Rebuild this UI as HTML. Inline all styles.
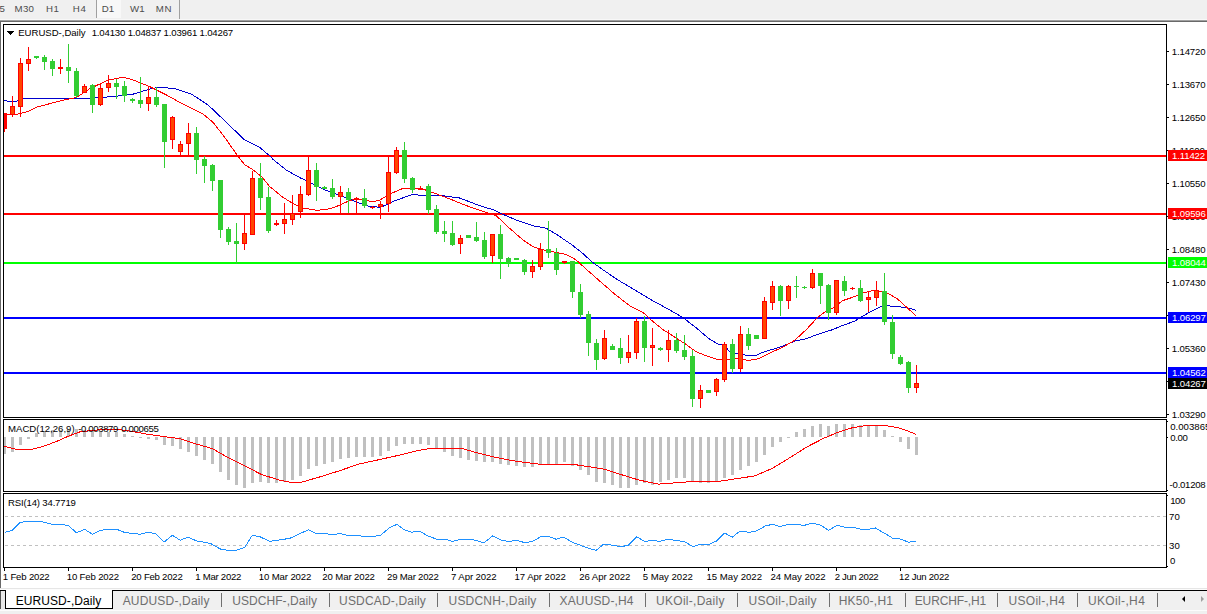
<!DOCTYPE html>
<html><head><meta charset="utf-8"><title>EURUSD-,Daily</title>
<style>
html,body{margin:0;padding:0;}
body{width:1207px;height:614px;overflow:hidden;background:#f0f0f0;position:relative;
 font-family:"Liberation Sans",sans-serif;}
.abs{position:absolute;white-space:nowrap;}
#white{left:1px;top:22px;width:1206px;height:566px;background:#fff;}
svg{position:absolute;left:0;top:0;}
.t{position:absolute;white-space:pre;}
.lab{position:absolute;left:1168px;width:39px;height:11px;overflow:hidden;}
.sep{position:absolute;top:593px;width:1px;height:14px;background:#707070;}
</style></head><body>

<div class="abs" style="left:97px;top:0;width:24px;height:18px;background:#f8f8f8;"></div>
<div class="abs" style="left:96px;top:0;width:1px;height:18px;background:#a0a0a0;"></div>
<div class="abs" style="left:179px;top:0;width:1px;height:20px;background:#a0a0a0;"></div>
<div class="abs" style="left:0;top:19px;width:1207px;height:1px;background:#f8f8f8;"></div>
<div class="abs" style="left:0;top:20px;width:1207px;height:1px;background:#a0a0a0;"></div>
<div class="abs" style="left:0;top:21px;width:1207px;height:1px;background:#696969;"></div>
<div id="white" class="abs"></div>
<div class="abs" style="left:0;top:21px;width:1px;height:567px;background:#696969;"></div>
<svg width="1207" height="614" viewBox="0 0 1207 614" shape-rendering="crispEdges">
<rect x="4" y="155" width="1162" height="2" fill="#ff0000"/>
<rect x="4" y="213" width="1162" height="2" fill="#ff0000"/>
<rect x="4" y="262" width="1162" height="2" fill="#00ff00"/>
<rect x="4" y="317" width="1162" height="2" fill="#0000ff"/>
<rect x="4" y="372" width="1162" height="2" fill="#0000ff"/>
<polyline points="4.0,100.4 9.0,101.4 15.7,101.4 25.7,98.3 89.5,98.3 116.0,96.3 132.6,94.3 149.0,89.3 157.4,87.5 174.0,88.3 179.0,90.0 191.4,94.1 208.0,104.9 224.6,120.7 244.4,139.7 259.4,147.2 269.3,155.5 273.7,160.0 286.2,170.0 299.4,177.4 312.7,184.0 324.3,189.8 335.9,194.0 349.1,199.0 359.0,203.0 369.0,206.4 379.0,207.2 383.0,206.3 393.2,201.3 413.0,194.3 419.7,195.2 439.6,195.2 459.5,198.0 479.4,205.5 493.8,210.0 506.2,215.8 519.5,221.3 532.7,225.7 546.0,228.2 555.9,234.0 570.8,244.0 582.4,253.1 592.4,262.2 604.0,270.5 618.0,280.0 634.6,289.9 652.8,300.7 669.4,309.8 682.6,317.3 697.5,328.9 709.1,338.8 717.4,343.8 724.0,345.5 729.7,351.5 736.3,353.5 746.3,355.3 756.2,355.3 762.9,352.3 779.4,347.3 796.0,340.7 806.3,338.7 819.5,333.7 832.8,329.6 842.7,325.4 854.3,321.3 862.6,316.3 872.6,310.5 882.5,306.0 887.5,305.2 892.4,306.7 905.7,307.2 915.6,310.2" fill="none" stroke="#0000cd" stroke-width="1" stroke-linejoin="round" shape-rendering="crispEdges"/>
<polyline points="4.0,114.4 16.6,114.4 27.3,111.7 37.3,107.0 49.7,103.7 66.3,99.5 76.2,97.5 82.9,93.3 89.5,88.8 107.7,80.2 122.6,77.2 132.5,79.7 149.0,86.3 165.7,94.6 179.8,102.4 203.0,114.0 213.0,122.3 224.6,137.2 236.2,153.8 244.5,164.6 252.7,169.5 262.7,177.8 269.6,186.5 282.9,197.3 292.8,203.4 302.7,208.0 316.0,210.2 326.0,209.7 335.9,206.7 345.8,202.3 355.8,198.4 364.0,200.0 371.5,201.4 378.0,200.8 380.5,199.7 389.9,193.9 403.0,188.4 413.0,188.4 424.7,189.7 436.3,193.9 449.5,198.8 466.0,205.5 486.0,212.4 496.3,215.8 509.5,228.2 522.8,239.8 532.7,246.5 542.7,249.8 552.6,251.8 565.9,254.4 575.8,259.7 585.8,268.8 599.0,280.4 614.7,294.1 629.6,305.7 642.9,312.3 652.8,321.4 662.7,329.4 676.0,338.0 685.9,344.3 695.9,351.6 705.8,355.7 716.5,359.3 729.7,359.3 738.0,358.1 748.0,360.6 757.9,358.9 769.5,353.1 782.7,347.3 794.7,340.3 806.3,329.6 817.9,317.1 824.5,312.2 832.8,308.0 842.7,300.6 852.7,297.3 862.6,293.1 872.6,290.6 880.8,291.1 889.1,293.9 897.4,298.9 905.7,306.4 915.6,315.5" fill="none" stroke="#ff0000" stroke-width="1" stroke-linejoin="round" shape-rendering="crispEdges"/>
<rect x="4" y="113" width="1" height="19" fill="#ff0000"/>
<rect x="4" y="113" width="3" height="16" fill="#ff0000"/>
<rect x="12" y="96" width="1" height="21" fill="#ff0000"/>
<rect x="10" y="106" width="5" height="9" fill="#ff0000"/>
<rect x="11" y="107" width="3" height="7" fill="#ff4500"/>
<rect x="20" y="58" width="1" height="59" fill="#ff0000"/>
<rect x="18" y="63" width="5" height="44" fill="#ff0000"/>
<rect x="19" y="64" width="3" height="42" fill="#ff4500"/>
<rect x="28" y="47" width="1" height="24" fill="#ff0000"/>
<rect x="26" y="59" width="5" height="5" fill="#ff0000"/>
<rect x="27" y="60" width="3" height="3" fill="#ff4500"/>
<rect x="36" y="56" width="1" height="3" fill="#32cd32"/>
<rect x="34" y="56" width="5" height="2" fill="#32cd32"/>
<rect x="44" y="55" width="1" height="15" fill="#32cd32"/>
<rect x="42" y="57" width="5" height="5" fill="#32cd32"/>
<rect x="52" y="59" width="1" height="17" fill="#32cd32"/>
<rect x="50" y="61" width="5" height="8" fill="#32cd32"/>
<rect x="60" y="59" width="1" height="15" fill="#ff0000"/>
<rect x="58" y="67" width="5" height="2" fill="#ff0000"/>
<rect x="68" y="44" width="1" height="39" fill="#32cd32"/>
<rect x="66" y="67" width="5" height="4" fill="#32cd32"/>
<rect x="76" y="68" width="1" height="30" fill="#32cd32"/>
<rect x="74" y="71" width="5" height="25" fill="#32cd32"/>
<rect x="84" y="84" width="1" height="9" fill="#ff0000"/>
<rect x="82" y="86" width="5" height="7" fill="#ff0000"/>
<rect x="83" y="87" width="3" height="5" fill="#ff4500"/>
<rect x="92" y="84" width="1" height="29" fill="#32cd32"/>
<rect x="90" y="85" width="5" height="20" fill="#32cd32"/>
<rect x="100" y="84" width="1" height="22" fill="#ff0000"/>
<rect x="98" y="88" width="5" height="17" fill="#ff0000"/>
<rect x="99" y="89" width="3" height="15" fill="#ff4500"/>
<rect x="108" y="75" width="1" height="17" fill="#ff0000"/>
<rect x="106" y="83" width="5" height="5" fill="#ff0000"/>
<rect x="107" y="84" width="3" height="3" fill="#ff4500"/>
<rect x="116" y="79" width="1" height="20" fill="#32cd32"/>
<rect x="114" y="83" width="5" height="4" fill="#32cd32"/>
<rect x="124" y="81" width="1" height="21" fill="#32cd32"/>
<rect x="122" y="86" width="5" height="10" fill="#32cd32"/>
<rect x="132" y="98" width="1" height="5" fill="#32cd32"/>
<rect x="130" y="99" width="5" height="2" fill="#32cd32"/>
<rect x="140" y="77" width="1" height="31" fill="#32cd32"/>
<rect x="138" y="100" width="5" height="4" fill="#32cd32"/>
<rect x="148" y="86" width="1" height="25" fill="#ff0000"/>
<rect x="146" y="97" width="5" height="7" fill="#ff0000"/>
<rect x="147" y="98" width="3" height="5" fill="#ff4500"/>
<rect x="156" y="87" width="1" height="20" fill="#32cd32"/>
<rect x="154" y="97" width="5" height="8" fill="#32cd32"/>
<rect x="164" y="104" width="1" height="64" fill="#32cd32"/>
<rect x="162" y="104" width="5" height="38" fill="#32cd32"/>
<rect x="172" y="116" width="1" height="33" fill="#ff0000"/>
<rect x="170" y="117" width="5" height="23" fill="#ff0000"/>
<rect x="171" y="118" width="3" height="21" fill="#ff4500"/>
<rect x="180" y="141" width="1" height="15" fill="#ff0000"/>
<rect x="178" y="144" width="5" height="8" fill="#ff0000"/>
<rect x="179" y="145" width="3" height="6" fill="#ff4500"/>
<rect x="188" y="123" width="1" height="33" fill="#ff0000"/>
<rect x="186" y="133" width="5" height="11" fill="#ff0000"/>
<rect x="187" y="134" width="3" height="9" fill="#ff4500"/>
<rect x="196" y="127" width="1" height="47" fill="#32cd32"/>
<rect x="194" y="133" width="5" height="27" fill="#32cd32"/>
<rect x="204" y="156" width="1" height="27" fill="#32cd32"/>
<rect x="202" y="159" width="5" height="7" fill="#32cd32"/>
<rect x="212" y="164" width="1" height="27" fill="#32cd32"/>
<rect x="210" y="165" width="5" height="16" fill="#32cd32"/>
<rect x="220" y="180" width="1" height="58" fill="#32cd32"/>
<rect x="218" y="180" width="5" height="50" fill="#32cd32"/>
<rect x="228" y="227" width="1" height="18" fill="#32cd32"/>
<rect x="226" y="229" width="5" height="13" fill="#32cd32"/>
<rect x="236" y="223" width="1" height="41" fill="#32cd32"/>
<rect x="234" y="241" width="5" height="3" fill="#32cd32"/>
<rect x="244" y="215" width="1" height="35" fill="#ff0000"/>
<rect x="242" y="233" width="5" height="11" fill="#ff0000"/>
<rect x="243" y="234" width="3" height="9" fill="#ff4500"/>
<rect x="252" y="171" width="1" height="64" fill="#ff0000"/>
<rect x="250" y="178" width="5" height="57" fill="#ff0000"/>
<rect x="251" y="179" width="3" height="55" fill="#ff4500"/>
<rect x="260" y="163" width="1" height="47" fill="#32cd32"/>
<rect x="258" y="178" width="5" height="20" fill="#32cd32"/>
<rect x="268" y="187" width="1" height="46" fill="#32cd32"/>
<rect x="266" y="197" width="5" height="34" fill="#32cd32"/>
<rect x="276" y="220" width="1" height="6" fill="#ff0000"/>
<rect x="274" y="223" width="5" height="2" fill="#ff0000"/>
<rect x="284" y="203" width="1" height="31" fill="#ff0000"/>
<rect x="282" y="219" width="5" height="5" fill="#ff0000"/>
<rect x="283" y="220" width="3" height="3" fill="#ff4500"/>
<rect x="292" y="195" width="1" height="30" fill="#ff0000"/>
<rect x="290" y="213" width="5" height="7" fill="#ff0000"/>
<rect x="291" y="214" width="3" height="5" fill="#ff4500"/>
<rect x="300" y="186" width="1" height="32" fill="#ff0000"/>
<rect x="298" y="194" width="5" height="18" fill="#ff0000"/>
<rect x="299" y="195" width="3" height="16" fill="#ff4500"/>
<rect x="308" y="156" width="1" height="40" fill="#ff0000"/>
<rect x="306" y="170" width="5" height="25" fill="#ff0000"/>
<rect x="307" y="171" width="3" height="23" fill="#ff4500"/>
<rect x="316" y="163" width="1" height="38" fill="#32cd32"/>
<rect x="314" y="170" width="5" height="17" fill="#32cd32"/>
<rect x="324" y="186" width="1" height="3" fill="#32cd32"/>
<rect x="322" y="187" width="5" height="2" fill="#32cd32"/>
<rect x="332" y="179" width="1" height="20" fill="#32cd32"/>
<rect x="330" y="188" width="5" height="9" fill="#32cd32"/>
<rect x="340" y="186" width="1" height="27" fill="#ff0000"/>
<rect x="338" y="192" width="5" height="5" fill="#ff0000"/>
<rect x="339" y="193" width="3" height="3" fill="#ff4500"/>
<rect x="348" y="188" width="1" height="25" fill="#32cd32"/>
<rect x="346" y="192" width="5" height="8" fill="#32cd32"/>
<rect x="356" y="197" width="1" height="16" fill="#ff0000"/>
<rect x="354" y="198" width="5" height="2" fill="#ff0000"/>
<rect x="364" y="189" width="1" height="19" fill="#32cd32"/>
<rect x="362" y="198" width="5" height="8" fill="#32cd32"/>
<rect x="372" y="206" width="1" height="3" fill="#ff0000"/>
<rect x="370" y="207" width="5" height="1" fill="#ff0000"/>
<rect x="380" y="201" width="1" height="18" fill="#ff0000"/>
<rect x="378" y="204" width="5" height="3" fill="#ff0000"/>
<rect x="379" y="205" width="3" height="1" fill="#ff4500"/>
<rect x="388" y="156" width="1" height="56" fill="#ff0000"/>
<rect x="386" y="172" width="5" height="32" fill="#ff0000"/>
<rect x="387" y="173" width="3" height="30" fill="#ff4500"/>
<rect x="396" y="147" width="1" height="27" fill="#ff0000"/>
<rect x="394" y="150" width="5" height="23" fill="#ff0000"/>
<rect x="395" y="151" width="3" height="21" fill="#ff4500"/>
<rect x="404" y="142" width="1" height="41" fill="#32cd32"/>
<rect x="402" y="150" width="5" height="29" fill="#32cd32"/>
<rect x="412" y="177" width="1" height="16" fill="#32cd32"/>
<rect x="410" y="178" width="5" height="12" fill="#32cd32"/>
<rect x="420" y="186" width="1" height="3" fill="#ff0000"/>
<rect x="418" y="188" width="5" height="1" fill="#ff0000"/>
<rect x="428" y="184" width="1" height="30" fill="#32cd32"/>
<rect x="426" y="186" width="5" height="24" fill="#32cd32"/>
<rect x="436" y="205" width="1" height="29" fill="#32cd32"/>
<rect x="434" y="209" width="5" height="23" fill="#32cd32"/>
<rect x="444" y="221" width="1" height="21" fill="#32cd32"/>
<rect x="442" y="231" width="5" height="3" fill="#32cd32"/>
<rect x="452" y="221" width="1" height="25" fill="#32cd32"/>
<rect x="450" y="233" width="5" height="12" fill="#32cd32"/>
<rect x="460" y="235" width="1" height="19" fill="#ff0000"/>
<rect x="458" y="238" width="5" height="6" fill="#ff0000"/>
<rect x="459" y="239" width="3" height="4" fill="#ff4500"/>
<rect x="468" y="235" width="1" height="3" fill="#32cd32"/>
<rect x="466" y="235" width="5" height="3" fill="#32cd32"/>
<rect x="476" y="222" width="1" height="20" fill="#32cd32"/>
<rect x="474" y="237" width="5" height="4" fill="#32cd32"/>
<rect x="484" y="232" width="1" height="27" fill="#32cd32"/>
<rect x="482" y="240" width="5" height="17" fill="#32cd32"/>
<rect x="492" y="234" width="1" height="29" fill="#ff0000"/>
<rect x="490" y="234" width="5" height="22" fill="#ff0000"/>
<rect x="491" y="235" width="3" height="20" fill="#ff4500"/>
<rect x="500" y="225" width="1" height="54" fill="#32cd32"/>
<rect x="498" y="234" width="5" height="25" fill="#32cd32"/>
<rect x="508" y="257" width="1" height="10" fill="#32cd32"/>
<rect x="506" y="258" width="5" height="5" fill="#32cd32"/>
<rect x="516" y="258" width="1" height="2" fill="#32cd32"/>
<rect x="514" y="258" width="5" height="2" fill="#32cd32"/>
<rect x="524" y="259" width="1" height="16" fill="#32cd32"/>
<rect x="522" y="260" width="5" height="12" fill="#32cd32"/>
<rect x="532" y="260" width="1" height="18" fill="#ff0000"/>
<rect x="530" y="266" width="5" height="6" fill="#ff0000"/>
<rect x="531" y="267" width="3" height="4" fill="#ff4500"/>
<rect x="540" y="243" width="1" height="27" fill="#ff0000"/>
<rect x="538" y="249" width="5" height="18" fill="#ff0000"/>
<rect x="539" y="250" width="3" height="16" fill="#ff4500"/>
<rect x="548" y="221" width="1" height="37" fill="#32cd32"/>
<rect x="546" y="249" width="5" height="4" fill="#32cd32"/>
<rect x="556" y="248" width="1" height="27" fill="#32cd32"/>
<rect x="554" y="253" width="5" height="17" fill="#32cd32"/>
<rect x="564" y="261" width="1" height="3" fill="#ff0000"/>
<rect x="562" y="261" width="5" height="2" fill="#ff0000"/>
<rect x="572" y="261" width="1" height="37" fill="#32cd32"/>
<rect x="570" y="261" width="5" height="31" fill="#32cd32"/>
<rect x="580" y="284" width="1" height="34" fill="#32cd32"/>
<rect x="578" y="292" width="5" height="23" fill="#32cd32"/>
<rect x="588" y="311" width="1" height="45" fill="#32cd32"/>
<rect x="586" y="314" width="5" height="29" fill="#32cd32"/>
<rect x="596" y="339" width="1" height="31" fill="#32cd32"/>
<rect x="594" y="343" width="5" height="17" fill="#32cd32"/>
<rect x="604" y="330" width="1" height="30" fill="#ff0000"/>
<rect x="602" y="338" width="5" height="21" fill="#ff0000"/>
<rect x="603" y="339" width="3" height="19" fill="#ff4500"/>
<rect x="612" y="344" width="1" height="6" fill="#32cd32"/>
<rect x="610" y="346" width="5" height="4" fill="#32cd32"/>
<rect x="620" y="338" width="1" height="26" fill="#32cd32"/>
<rect x="618" y="348" width="5" height="10" fill="#32cd32"/>
<rect x="628" y="335" width="1" height="28" fill="#ff0000"/>
<rect x="626" y="352" width="5" height="6" fill="#ff0000"/>
<rect x="627" y="353" width="3" height="4" fill="#ff4500"/>
<rect x="636" y="318" width="1" height="41" fill="#ff0000"/>
<rect x="634" y="321" width="5" height="32" fill="#ff0000"/>
<rect x="635" y="322" width="3" height="30" fill="#ff4500"/>
<rect x="644" y="316" width="1" height="46" fill="#32cd32"/>
<rect x="642" y="321" width="5" height="27" fill="#32cd32"/>
<rect x="652" y="328" width="1" height="38" fill="#ff0000"/>
<rect x="650" y="345" width="5" height="3" fill="#ff0000"/>
<rect x="651" y="346" width="3" height="1" fill="#ff4500"/>
<rect x="660" y="347" width="1" height="4" fill="#32cd32"/>
<rect x="658" y="348" width="5" height="2" fill="#32cd32"/>
<rect x="668" y="330" width="1" height="32" fill="#ff0000"/>
<rect x="666" y="340" width="5" height="10" fill="#ff0000"/>
<rect x="667" y="341" width="3" height="8" fill="#ff4500"/>
<rect x="676" y="333" width="1" height="20" fill="#32cd32"/>
<rect x="674" y="340" width="5" height="11" fill="#32cd32"/>
<rect x="684" y="335" width="1" height="25" fill="#32cd32"/>
<rect x="682" y="350" width="5" height="7" fill="#32cd32"/>
<rect x="692" y="350" width="1" height="57" fill="#32cd32"/>
<rect x="690" y="356" width="5" height="43" fill="#32cd32"/>
<rect x="700" y="385" width="1" height="23" fill="#ff0000"/>
<rect x="698" y="390" width="5" height="9" fill="#ff0000"/>
<rect x="699" y="391" width="3" height="7" fill="#ff4500"/>
<rect x="708" y="390" width="1" height="3" fill="#32cd32"/>
<rect x="706" y="390" width="5" height="3" fill="#32cd32"/>
<rect x="716" y="378" width="1" height="18" fill="#ff0000"/>
<rect x="714" y="379" width="5" height="13" fill="#ff0000"/>
<rect x="715" y="380" width="3" height="11" fill="#ff4500"/>
<rect x="724" y="342" width="1" height="40" fill="#ff0000"/>
<rect x="722" y="344" width="5" height="36" fill="#ff0000"/>
<rect x="723" y="345" width="3" height="34" fill="#ff4500"/>
<rect x="732" y="339" width="1" height="34" fill="#32cd32"/>
<rect x="730" y="344" width="5" height="25" fill="#32cd32"/>
<rect x="740" y="326" width="1" height="46" fill="#ff0000"/>
<rect x="738" y="334" width="5" height="35" fill="#ff0000"/>
<rect x="739" y="335" width="3" height="33" fill="#ff4500"/>
<rect x="748" y="328" width="1" height="22" fill="#32cd32"/>
<rect x="746" y="334" width="5" height="12" fill="#32cd32"/>
<rect x="756" y="335" width="1" height="4" fill="#32cd32"/>
<rect x="754" y="335" width="5" height="4" fill="#32cd32"/>
<rect x="764" y="297" width="1" height="42" fill="#ff0000"/>
<rect x="762" y="301" width="5" height="38" fill="#ff0000"/>
<rect x="763" y="302" width="3" height="36" fill="#ff4500"/>
<rect x="772" y="281" width="1" height="29" fill="#ff0000"/>
<rect x="770" y="286" width="5" height="17" fill="#ff0000"/>
<rect x="771" y="287" width="3" height="15" fill="#ff4500"/>
<rect x="780" y="285" width="1" height="31" fill="#32cd32"/>
<rect x="778" y="286" width="5" height="15" fill="#32cd32"/>
<rect x="788" y="285" width="1" height="24" fill="#ff0000"/>
<rect x="786" y="286" width="5" height="15" fill="#ff0000"/>
<rect x="787" y="287" width="3" height="13" fill="#ff4500"/>
<rect x="796" y="276" width="1" height="22" fill="#32cd32"/>
<rect x="794" y="286" width="5" height="1" fill="#32cd32"/>
<rect x="804" y="286" width="1" height="3" fill="#32cd32"/>
<rect x="802" y="287" width="5" height="1" fill="#32cd32"/>
<rect x="812" y="269" width="1" height="20" fill="#ff0000"/>
<rect x="810" y="273" width="5" height="15" fill="#ff0000"/>
<rect x="811" y="274" width="3" height="13" fill="#ff4500"/>
<rect x="820" y="273" width="1" height="31" fill="#32cd32"/>
<rect x="818" y="273" width="5" height="13" fill="#32cd32"/>
<rect x="828" y="284" width="1" height="36" fill="#32cd32"/>
<rect x="826" y="285" width="5" height="28" fill="#32cd32"/>
<rect x="836" y="280" width="1" height="35" fill="#ff0000"/>
<rect x="834" y="280" width="5" height="33" fill="#ff0000"/>
<rect x="835" y="281" width="3" height="31" fill="#ff4500"/>
<rect x="844" y="276" width="1" height="20" fill="#32cd32"/>
<rect x="842" y="281" width="5" height="10" fill="#32cd32"/>
<rect x="852" y="287" width="1" height="3" fill="#ff0000"/>
<rect x="850" y="288" width="5" height="1" fill="#ff0000"/>
<rect x="860" y="280" width="1" height="22" fill="#32cd32"/>
<rect x="858" y="288" width="5" height="13" fill="#32cd32"/>
<rect x="868" y="292" width="1" height="20" fill="#ff0000"/>
<rect x="866" y="297" width="5" height="3" fill="#ff0000"/>
<rect x="867" y="298" width="3" height="1" fill="#ff4500"/>
<rect x="876" y="281" width="1" height="25" fill="#ff0000"/>
<rect x="874" y="290" width="5" height="8" fill="#ff0000"/>
<rect x="875" y="291" width="3" height="6" fill="#ff4500"/>
<rect x="884" y="273" width="1" height="52" fill="#32cd32"/>
<rect x="882" y="291" width="5" height="31" fill="#32cd32"/>
<rect x="892" y="315" width="1" height="44" fill="#32cd32"/>
<rect x="890" y="322" width="5" height="32" fill="#32cd32"/>
<rect x="900" y="355" width="1" height="10" fill="#32cd32"/>
<rect x="898" y="357" width="5" height="7" fill="#32cd32"/>
<rect x="908" y="361" width="1" height="32" fill="#32cd32"/>
<rect x="906" y="362" width="5" height="26" fill="#32cd32"/>
<rect x="916" y="365" width="1" height="28" fill="#ff0000"/>
<rect x="914" y="383" width="5" height="5" fill="#ff0000"/>
<rect x="915" y="384" width="3" height="3" fill="#ff4500"/>
<rect x="4" y="437" width="2" height="17" fill="#c0c0c0"/>
<rect x="11" y="437" width="3" height="15" fill="#c0c0c0"/>
<rect x="19" y="437" width="3" height="8" fill="#c0c0c0"/>
<rect x="27" y="437" width="3" height="2" fill="#c0c0c0"/>
<rect x="35" y="433" width="3" height="4" fill="#c0c0c0"/>
<rect x="43" y="431" width="3" height="6" fill="#c0c0c0"/>
<rect x="51" y="430" width="3" height="7" fill="#c0c0c0"/>
<rect x="59" y="430" width="3" height="7" fill="#c0c0c0"/>
<rect x="67" y="429" width="3" height="8" fill="#c0c0c0"/>
<rect x="75" y="429" width="3" height="8" fill="#c0c0c0"/>
<rect x="83" y="430" width="3" height="7" fill="#c0c0c0"/>
<rect x="91" y="431" width="3" height="6" fill="#c0c0c0"/>
<rect x="99" y="432" width="3" height="5" fill="#c0c0c0"/>
<rect x="107" y="432" width="3" height="5" fill="#c0c0c0"/>
<rect x="115" y="432" width="3" height="5" fill="#c0c0c0"/>
<rect x="123" y="434" width="3" height="3" fill="#c0c0c0"/>
<rect x="131" y="436" width="3" height="1" fill="#c0c0c0"/>
<rect x="139" y="437" width="3" height="1" fill="#c0c0c0"/>
<rect x="147" y="437" width="3" height="2" fill="#c0c0c0"/>
<rect x="155" y="437" width="3" height="3" fill="#c0c0c0"/>
<rect x="163" y="437" width="3" height="8" fill="#c0c0c0"/>
<rect x="171" y="437" width="3" height="9" fill="#c0c0c0"/>
<rect x="179" y="437" width="3" height="12" fill="#c0c0c0"/>
<rect x="187" y="437" width="3" height="15" fill="#c0c0c0"/>
<rect x="195" y="437" width="3" height="19" fill="#c0c0c0"/>
<rect x="203" y="437" width="3" height="23" fill="#c0c0c0"/>
<rect x="211" y="437" width="3" height="27" fill="#c0c0c0"/>
<rect x="219" y="437" width="3" height="35" fill="#c0c0c0"/>
<rect x="227" y="437" width="3" height="43" fill="#c0c0c0"/>
<rect x="235" y="437" width="3" height="48" fill="#c0c0c0"/>
<rect x="243" y="437" width="3" height="51" fill="#c0c0c0"/>
<rect x="251" y="437" width="3" height="46" fill="#c0c0c0"/>
<rect x="259" y="437" width="3" height="45" fill="#c0c0c0"/>
<rect x="267" y="437" width="3" height="46" fill="#c0c0c0"/>
<rect x="275" y="437" width="3" height="46" fill="#c0c0c0"/>
<rect x="283" y="437" width="3" height="45" fill="#c0c0c0"/>
<rect x="291" y="437" width="3" height="43" fill="#c0c0c0"/>
<rect x="299" y="437" width="3" height="39" fill="#c0c0c0"/>
<rect x="307" y="437" width="3" height="32" fill="#c0c0c0"/>
<rect x="315" y="437" width="3" height="29" fill="#c0c0c0"/>
<rect x="323" y="437" width="3" height="27" fill="#c0c0c0"/>
<rect x="331" y="437" width="3" height="25" fill="#c0c0c0"/>
<rect x="339" y="437" width="3" height="22" fill="#c0c0c0"/>
<rect x="347" y="437" width="3" height="21" fill="#c0c0c0"/>
<rect x="355" y="437" width="3" height="20" fill="#c0c0c0"/>
<rect x="363" y="437" width="3" height="20" fill="#c0c0c0"/>
<rect x="371" y="437" width="3" height="20" fill="#c0c0c0"/>
<rect x="379" y="437" width="3" height="19" fill="#c0c0c0"/>
<rect x="387" y="437" width="3" height="14" fill="#c0c0c0"/>
<rect x="395" y="437" width="3" height="9" fill="#c0c0c0"/>
<rect x="403" y="437" width="3" height="7" fill="#c0c0c0"/>
<rect x="411" y="437" width="3" height="7" fill="#c0c0c0"/>
<rect x="419" y="437" width="3" height="7" fill="#c0c0c0"/>
<rect x="427" y="437" width="3" height="8" fill="#c0c0c0"/>
<rect x="435" y="437" width="3" height="11" fill="#c0c0c0"/>
<rect x="443" y="437" width="3" height="15" fill="#c0c0c0"/>
<rect x="451" y="437" width="3" height="19" fill="#c0c0c0"/>
<rect x="459" y="437" width="3" height="21" fill="#c0c0c0"/>
<rect x="467" y="437" width="3" height="23" fill="#c0c0c0"/>
<rect x="475" y="437" width="3" height="24" fill="#c0c0c0"/>
<rect x="483" y="437" width="3" height="25" fill="#c0c0c0"/>
<rect x="491" y="437" width="3" height="25" fill="#c0c0c0"/>
<rect x="499" y="437" width="3" height="27" fill="#c0c0c0"/>
<rect x="507" y="437" width="3" height="28" fill="#c0c0c0"/>
<rect x="515" y="437" width="3" height="29" fill="#c0c0c0"/>
<rect x="523" y="437" width="3" height="30" fill="#c0c0c0"/>
<rect x="531" y="437" width="3" height="30" fill="#c0c0c0"/>
<rect x="539" y="437" width="3" height="27" fill="#c0c0c0"/>
<rect x="547" y="437" width="3" height="27" fill="#c0c0c0"/>
<rect x="555" y="437" width="3" height="27" fill="#c0c0c0"/>
<rect x="563" y="437" width="3" height="25" fill="#c0c0c0"/>
<rect x="571" y="437" width="3" height="29" fill="#c0c0c0"/>
<rect x="579" y="437" width="3" height="33" fill="#c0c0c0"/>
<rect x="587" y="437" width="3" height="38" fill="#c0c0c0"/>
<rect x="595" y="437" width="3" height="45" fill="#c0c0c0"/>
<rect x="603" y="437" width="3" height="46" fill="#c0c0c0"/>
<rect x="611" y="437" width="3" height="48" fill="#c0c0c0"/>
<rect x="619" y="437" width="3" height="51" fill="#c0c0c0"/>
<rect x="627" y="437" width="3" height="51" fill="#c0c0c0"/>
<rect x="635" y="437" width="3" height="48" fill="#c0c0c0"/>
<rect x="643" y="437" width="3" height="46" fill="#c0c0c0"/>
<rect x="651" y="437" width="3" height="48" fill="#c0c0c0"/>
<rect x="659" y="437" width="3" height="45" fill="#c0c0c0"/>
<rect x="667" y="437" width="3" height="43" fill="#c0c0c0"/>
<rect x="675" y="437" width="3" height="41" fill="#c0c0c0"/>
<rect x="683" y="437" width="3" height="41" fill="#c0c0c0"/>
<rect x="691" y="437" width="3" height="45" fill="#c0c0c0"/>
<rect x="699" y="437" width="3" height="46" fill="#c0c0c0"/>
<rect x="707" y="437" width="3" height="46" fill="#c0c0c0"/>
<rect x="715" y="437" width="3" height="45" fill="#c0c0c0"/>
<rect x="723" y="437" width="3" height="41" fill="#c0c0c0"/>
<rect x="731" y="437" width="3" height="38" fill="#c0c0c0"/>
<rect x="739" y="437" width="3" height="33" fill="#c0c0c0"/>
<rect x="747" y="437" width="3" height="29" fill="#c0c0c0"/>
<rect x="755" y="437" width="3" height="25" fill="#c0c0c0"/>
<rect x="763" y="437" width="3" height="18" fill="#c0c0c0"/>
<rect x="771" y="437" width="3" height="10" fill="#c0c0c0"/>
<rect x="779" y="437" width="3" height="5" fill="#c0c0c0"/>
<rect x="787" y="437" width="3" height="1" fill="#c0c0c0"/>
<rect x="795" y="432" width="3" height="5" fill="#c0c0c0"/>
<rect x="803" y="429" width="3" height="8" fill="#c0c0c0"/>
<rect x="811" y="426" width="3" height="11" fill="#c0c0c0"/>
<rect x="819" y="424" width="3" height="13" fill="#c0c0c0"/>
<rect x="827" y="426" width="3" height="11" fill="#c0c0c0"/>
<rect x="835" y="424" width="3" height="13" fill="#c0c0c0"/>
<rect x="843" y="424" width="3" height="13" fill="#c0c0c0"/>
<rect x="851" y="424" width="3" height="13" fill="#c0c0c0"/>
<rect x="859" y="425" width="3" height="12" fill="#c0c0c0"/>
<rect x="867" y="425" width="3" height="12" fill="#c0c0c0"/>
<rect x="875" y="425" width="3" height="12" fill="#c0c0c0"/>
<rect x="883" y="430" width="3" height="7" fill="#c0c0c0"/>
<rect x="891" y="436" width="3" height="1" fill="#c0c0c0"/>
<rect x="899" y="437" width="3" height="5" fill="#c0c0c0"/>
<rect x="907" y="437" width="3" height="12" fill="#c0c0c0"/>
<rect x="915" y="437" width="3" height="18" fill="#c0c0c0"/>
<polyline points="3.3,446.1 16.6,449.3 29.8,449.8 43.0,446.5 56.3,441.5 69.6,435.7 79.5,432.0 92.8,430.2 106.0,429.6 119.3,429.6 132.6,431.5 149.1,434.5 165.7,436.8 180.0,438.6 194.9,443.6 212.3,448.6 229.7,458.5 244.6,466.0 262.0,474.7 279.4,480.1 289.4,482.1 301.8,482.1 319.2,477.1 339.1,470.9 359.0,464.0 378.9,459.7 398.7,455.3 418.6,450.3 433.5,448.1 460.9,448.1 474.9,452.3 494.8,457.3 514.7,461.0 539.5,464.2 571.9,464.2 589.3,466.7 604.2,469.2 621.6,474.7 639.0,480.1 658.9,484.1 678.7,482.6 693.7,481.4 718.5,481.4 738.4,478.4 754.9,475.9 772.3,468.4 789.7,457.8 807.1,446.8 824.5,437.9 839.4,431.7 851.9,427.9 864.3,425.7 884.2,425.4 896.6,427.4 906.6,430.4 916.0,434.4" fill="none" stroke="#ff0000" stroke-width="1" stroke-linejoin="round" shape-rendering="crispEdges"/>
<line x1="5" y1="516.5" x2="1166" y2="516.5" stroke="#c0c0c0" stroke-width="1" stroke-dasharray="3 3"/>
<line x1="5" y1="545.5" x2="1166" y2="545.5" stroke="#c0c0c0" stroke-width="1" stroke-dasharray="3 3"/>
<polyline points="4.5,532.3 12.4,530.3 20.4,522.3 28.6,521.3 39.8,521.3 52.2,524.3 60.9,524.3 68.4,525.5 76.6,532.8 84.5,529.3 92.5,534.2 100.7,530.3 108.6,529.3 116.8,529.3 124.3,532.3 133.0,533.5 140.4,534.2 148.4,532.3 156.1,534.0 164.1,542.2 172.3,535.2 180.2,540.2 188.2,537.2 196.4,540.9 204.3,542.2 211.3,543.9 220.0,548.9 227.9,550.4 236.1,550.4 244.8,547.2 252.3,535.2 259.8,536.7 269.7,541.4 275.9,540.4 284.6,539.2 292.0,537.7 300.0,533.5 308.6,529.8 316.1,533.5 324.8,533.5 332.3,534.7 339.7,533.5 348.4,535.5 357.1,535.5 364.6,536.5 373.3,536.5 380.7,535.2 389.4,527.8 396.9,524.3 404.3,529.8 411.8,532.3 419.3,531.0 428.0,536.0 436.7,539.2 445.4,539.2 452.8,541.5 460.3,539.2 471.5,539.2 483.9,542.7 492.6,536.0 501.3,540.2 508.7,541.5 516.2,540.2 524.9,542.7 532.4,541.5 541.1,536.5 548.5,536.5 556.0,539.2 563.4,537.2 573.4,542.7 582.1,545.9 588.7,548.4 596.2,550.4 603.6,544.2 612.3,545.2 621.0,546.7 628.5,545.2 636.7,536.7 645.1,541.7 652.1,540.2 659.5,541.5 668.2,539.2 675.7,540.5 684.4,541.5 693.1,546.7 700.6,544.2 709.3,544.2 716.7,541.0 724.7,533.0 732.1,537.2 740.3,531.0 749.0,532.3 756.5,531.0 765.2,526.0 772.6,524.3 780.1,526.5 788.8,524.3 796.3,524.3 803.7,525.5 812.4,523.1 819.9,524.8 828.6,530.3 837.3,525.3 844.7,527.3 853.4,527.3 860.9,529.3 868.3,529.3 875.4,528.0 884.9,533.5 892.3,538.0 901.0,539.2 908.5,542.2 916.0,541.0" fill="none" stroke="#1e90ff" stroke-width="1" stroke-linejoin="round" shape-rendering="crispEdges"/>
<rect x="3" y="24" width="1164" height="1" fill="#000"/>
<rect x="3" y="417" width="1164" height="1" fill="#000"/>
<rect x="3" y="24" width="1" height="394" fill="#000"/>
<rect x="1166" y="24" width="1" height="394" fill="#000"/>
<rect x="3" y="419" width="1164" height="1" fill="#000"/>
<rect x="3" y="491" width="1164" height="1" fill="#000"/>
<rect x="3" y="419" width="1" height="73" fill="#000"/>
<rect x="1166" y="419" width="1" height="73" fill="#000"/>
<rect x="3" y="493" width="1164" height="1" fill="#000"/>
<rect x="3" y="567" width="1164" height="1" fill="#000"/>
<rect x="3" y="493" width="1" height="75" fill="#000"/>
<rect x="1166" y="493" width="1" height="75" fill="#000"/>
<rect x="1167" y="51" width="2" height="1" fill="#000"/>
<rect x="1167" y="84" width="2" height="1" fill="#000"/>
<rect x="1167" y="117" width="2" height="1" fill="#000"/>
<rect x="1167" y="150" width="2" height="1" fill="#000"/>
<rect x="1167" y="183" width="2" height="1" fill="#000"/>
<rect x="1167" y="216" width="2" height="1" fill="#000"/>
<rect x="1167" y="249" width="2" height="1" fill="#000"/>
<rect x="1167" y="282" width="2" height="1" fill="#000"/>
<rect x="1167" y="315" width="2" height="1" fill="#000"/>
<rect x="1167" y="348" width="2" height="1" fill="#000"/>
<rect x="1167" y="381" width="2" height="1" fill="#000"/>
<rect x="1167" y="414" width="2" height="1" fill="#000"/>
<rect x="1167" y="421" width="1" height="1" fill="#000"/>
<rect x="1167" y="437" width="1" height="1" fill="#000"/>
<rect x="1167" y="490" width="1" height="1" fill="#000"/>
<rect x="1167" y="495" width="1" height="1" fill="#000"/>
<rect x="1167" y="566" width="1" height="1" fill="#000"/>
<rect x="4" y="568" width="1" height="3" fill="#000"/>
<rect x="68" y="568" width="1" height="3" fill="#000"/>
<rect x="132" y="568" width="1" height="3" fill="#000"/>
<rect x="196" y="568" width="1" height="3" fill="#000"/>
<rect x="260" y="568" width="1" height="3" fill="#000"/>
<rect x="324" y="568" width="1" height="3" fill="#000"/>
<rect x="388" y="568" width="1" height="3" fill="#000"/>
<rect x="452" y="568" width="1" height="3" fill="#000"/>
<rect x="516" y="568" width="1" height="3" fill="#000"/>
<rect x="580" y="568" width="1" height="3" fill="#000"/>
<rect x="644" y="568" width="1" height="3" fill="#000"/>
<rect x="708" y="568" width="1" height="3" fill="#000"/>
<rect x="772" y="568" width="1" height="3" fill="#000"/>
<rect x="836" y="568" width="1" height="3" fill="#000"/>
<rect x="900" y="568" width="1" height="3" fill="#000"/>
<rect x="7" y="31" width="7" height="1" fill="#000"/>
<rect x="8" y="32" width="5" height="1" fill="#000"/>
<rect x="9" y="33" width="3" height="1" fill="#000"/>
<rect x="10" y="34" width="1" height="1" fill="#000"/>
</svg>
<div class="abs" style="left:0;top:588px;width:1207px;height:1px;background:#e6e6e6;"></div>
<div class="abs" style="left:0;top:589px;width:1207px;height:1px;background:#fcfcfc;"></div>
<div class="abs" style="left:0;top:610px;width:1207px;height:1px;background:#fcfcfc;"></div>
<div class="abs" style="left:0;top:590px;width:6px;height:1px;background:#000;"></div>
<div class="abs" style="left:112px;top:590px;width:1095px;height:1px;background:#000;"></div>
<div class="abs" style="left:0;top:591px;width:1px;height:18px;background:#555;"></div>
<div class="abs" style="left:1px;top:591px;width:4px;height:18px;background:#e8e8e8;"></div>
<div class="abs" style="left:5px;top:590px;width:106px;height:18px;background:#fff;border:1px solid #000;border-top:none;"></div>
<div class="sep" style="left:221px;"></div>
<div class="sep" style="left:329px;"></div>
<div class="sep" style="left:437px;"></div>
<div class="sep" style="left:549px;"></div>
<div class="sep" style="left:645px;"></div>
<div class="sep" style="left:737px;"></div>
<div class="sep" style="left:829px;"></div>
<div class="sep" style="left:905px;"></div>
<div class="sep" style="left:997px;"></div>
<div class="sep" style="left:1077px;"></div>
<div class="sep" style="left:1157px;"></div>
<div class="abs" style="left:1181.8px;top:595.5px;width:0;height:0;border-top:3.5px solid transparent;border-bottom:3.5px solid transparent;border-right:3.5px solid #000;"></div>
<div class="abs" style="left:1200.5px;top:595.5px;width:0;height:0;border-top:3.5px solid transparent;border-bottom:3.5px solid transparent;border-left:3.5px solid #a0a0a0;"></div>
<div class="t" id="t0" style="left:-0.40px;top:2.64px;font-size:9.7px;line-height:12px;letter-spacing:0.000px;color:#4c4c4c;">5</div>
<div class="t" id="t1" style="left:14.58px;top:2.64px;font-size:9.7px;line-height:12px;letter-spacing:0.282px;color:#4c4c4c;">M30</div>
<div class="t" id="t2" style="left:45.92px;top:2.64px;font-size:9.7px;line-height:12px;letter-spacing:0.563px;color:#4c4c4c;">H1</div>
<div class="t" id="t3" style="left:72.80px;top:2.64px;font-size:9.7px;line-height:12px;letter-spacing:0.700px;color:#4c4c4c;">H4</div>
<div class="t" id="t4" style="left:101.78px;top:2.64px;font-size:9.7px;line-height:12px;letter-spacing:0.083px;color:#4c4c4c;">D1</div>
<div class="t" id="t5" style="left:130.01px;top:2.64px;font-size:9.7px;line-height:12px;letter-spacing:0.209px;color:#4c4c4c;">W1</div>
<div class="t" id="t6" style="left:155.67px;top:2.64px;font-size:9.7px;line-height:12px;letter-spacing:0.700px;color:#4c4c4c;">MN</div>
<div class="t" id="t7" style="left:18.22px;top:26.67px;font-size:9.6px;line-height:12px;letter-spacing:-0.024px;color:#000;">EURUSD-,Daily</div>
<div class="t" id="t8" style="left:91.70px;top:26.67px;font-size:9.6px;line-height:12px;letter-spacing:-0.174px;color:#000;">1.04130 1.04837 1.03961 1.04267</div>
<div class="t" id="t9" style="left:8.01px;top:422.67px;font-size:9.6px;line-height:12px;letter-spacing:-0.004px;color:#000;">MACD(12,26,9)</div>
<div class="t" id="t10" style="left:78.29px;top:422.67px;font-size:9.6px;line-height:12px;letter-spacing:-0.389px;color:#000;">-0.003879</div>
<div class="t" id="t11" style="left:121.13px;top:422.67px;font-size:9.6px;line-height:12px;letter-spacing:-0.324px;color:#000;">0.000655</div>
<div class="t" id="t12" style="left:8.00px;top:496.67px;font-size:9.6px;line-height:12px;letter-spacing:-0.176px;color:#000;">RSI(14) 34.7719</div>
<div class="t" id="t13" style="left:1171.78px;top:45.67px;font-size:9.6px;line-height:12px;letter-spacing:-0.151px;color:#000;">1.14720</div>
<div class="t nf" id="t14" style="left:1171.78px;top:78.67px;font-size:9.6px;line-height:12px;letter-spacing:-0.151px;color:#000;">1.13670</div>
<div class="t nf" id="t15" style="left:1171.78px;top:111.67px;font-size:9.6px;line-height:12px;letter-spacing:-0.151px;color:#000;">1.12650</div>
<div class="t nf" id="t16" style="left:1171.78px;top:144.67px;font-size:9.6px;line-height:12px;letter-spacing:-0.151px;color:#000;">1.11600</div>
<div class="t nf" id="t17" style="left:1171.78px;top:177.67px;font-size:9.6px;line-height:12px;letter-spacing:-0.151px;color:#000;">1.10550</div>
<div class="t nf" id="t18" style="left:1171.78px;top:210.67px;font-size:9.6px;line-height:12px;letter-spacing:-0.151px;color:#000;">1.09500</div>
<div class="t nf" id="t19" style="left:1171.78px;top:243.67px;font-size:9.6px;line-height:12px;letter-spacing:-0.151px;color:#000;">1.08480</div>
<div class="t nf" id="t20" style="left:1171.78px;top:276.67px;font-size:9.6px;line-height:12px;letter-spacing:-0.151px;color:#000;">1.07430</div>
<div class="t nf" id="t21" style="left:1171.78px;top:309.67px;font-size:9.6px;line-height:12px;letter-spacing:-0.151px;color:#000;">1.06410</div>
<div class="t nf" id="t22" style="left:1171.78px;top:342.67px;font-size:9.6px;line-height:12px;letter-spacing:-0.151px;color:#000;">1.05360</div>
<div class="t nf" id="t23" style="left:1171.78px;top:375.67px;font-size:9.6px;line-height:12px;letter-spacing:-0.151px;color:#000;">1.04310</div>
<div class="t nf" id="t24" style="left:1171.78px;top:408.67px;font-size:9.6px;line-height:12px;letter-spacing:-0.151px;color:#000;">1.03290</div>
<div class="t" id="t25" style="left:1170.14px;top:420.67px;font-size:9.6px;line-height:12px;letter-spacing:0.032px;color:#000;">0.003865</div>
<div class="t" id="t26" style="left:1170.14px;top:431.67px;font-size:9.6px;line-height:12px;letter-spacing:-0.319px;color:#000;">0.00</div>
<div class="t" id="t27" style="left:1169.62px;top:478.67px;font-size:9.6px;line-height:12px;letter-spacing:-0.256px;color:#000;">-0.01208</div>
<div class="t" id="t28" style="left:1170.14px;top:494.67px;font-size:9.6px;line-height:12px;letter-spacing:-0.359px;color:#000;">100</div>
<div class="t" id="t29" style="left:1169.05px;top:510.67px;font-size:9.6px;line-height:12px;letter-spacing:0.120px;color:#000;">70</div>
<div class="t" id="t30" style="left:1169.04px;top:539.67px;font-size:9.6px;line-height:12px;letter-spacing:0.131px;color:#000;">30</div>
<div class="t" id="t31" style="left:1169.89px;top:554.67px;font-size:9.6px;line-height:12px;letter-spacing:0.000px;color:#000;">0</div>
<div class="t" id="t32" style="left:2.78px;top:570.67px;font-size:9.6px;line-height:12px;letter-spacing:-0.180px;color:#000;">1 Feb 2022</div>
<div class="t" id="t33" style="left:66.78px;top:570.67px;font-size:9.6px;line-height:12px;letter-spacing:-0.164px;color:#000;">10 Feb 2022</div>
<div class="t" id="t34" style="left:131.27px;top:570.67px;font-size:9.6px;line-height:12px;letter-spacing:-0.240px;color:#000;">20 Feb 2022</div>
<div class="t" id="t35" style="left:195.20px;top:570.67px;font-size:9.6px;line-height:12px;letter-spacing:-0.255px;color:#000;">1 Mar 2022</div>
<div class="t" id="t36" style="left:258.78px;top:570.67px;font-size:9.6px;line-height:12px;letter-spacing:-0.127px;color:#000;">10 Mar 2022</div>
<div class="t" id="t37" style="left:322.37px;top:570.67px;font-size:9.6px;line-height:12px;letter-spacing:-0.129px;color:#000;">20 Mar 2022</div>
<div class="t" id="t38" style="left:387.07px;top:570.67px;font-size:9.6px;line-height:12px;letter-spacing:-0.215px;color:#000;">29 Mar 2022</div>
<div class="t" id="t39" style="left:451.05px;top:570.67px;font-size:9.6px;line-height:12px;letter-spacing:-0.091px;color:#000;">7 Apr 2022</div>
<div class="t" id="t40" style="left:514.58px;top:570.67px;font-size:9.6px;line-height:12px;letter-spacing:-0.051px;color:#000;">17 Apr 2022</div>
<div class="t" id="t41" style="left:579.19px;top:570.67px;font-size:9.6px;line-height:12px;letter-spacing:-0.067px;color:#000;">26 Apr 2022</div>
<div class="t" id="t42" style="left:642.82px;top:570.67px;font-size:9.6px;line-height:12px;letter-spacing:-0.016px;color:#000;">5 May 2022</div>
<div class="t" id="t43" style="left:706.51px;top:570.67px;font-size:9.6px;line-height:12px;letter-spacing:0.001px;color:#000;">15 May 2022</div>
<div class="t" id="t44" style="left:770.46px;top:570.67px;font-size:9.6px;line-height:12px;letter-spacing:-0.022px;color:#000;">24 May 2022</div>
<div class="t" id="t45" style="left:834.77px;top:570.67px;font-size:9.6px;line-height:12px;letter-spacing:-0.394px;color:#000;">2 Jun 2022</div>
<div class="t" id="t46" style="left:899.07px;top:570.67px;font-size:9.6px;line-height:12px;letter-spacing:-0.251px;color:#000;">12 Jun 2022</div>
<div class="t" id="t47" style="left:15.69px;top:592.84px;font-size:12px;line-height:16px;letter-spacing:0.080px;color:#000;">EURUSD-,Daily</div>
<div class="t" id="t48" style="left:122.67px;top:592.84px;font-size:12px;line-height:16px;letter-spacing:0.177px;color:#6e6e6e;">AUDUSD-,Daily</div>
<div class="t" id="t49" style="left:232.20px;top:592.84px;font-size:12px;line-height:16px;letter-spacing:0.065px;color:#6e6e6e;">USDCHF-,Daily</div>
<div class="t" id="t50" style="left:339.10px;top:592.84px;font-size:12px;line-height:16px;letter-spacing:0.173px;color:#6e6e6e;">USDCAD-,Daily</div>
<div class="t" id="t51" style="left:448.56px;top:592.84px;font-size:12px;line-height:16px;letter-spacing:0.204px;color:#6e6e6e;">USDCNH-,Daily</div>
<div class="t" id="t52" style="left:559.59px;top:592.84px;font-size:12px;line-height:16px;letter-spacing:0.139px;color:#6e6e6e;">XAUUSD-,H4</div>
<div class="t" id="t53" style="left:656.10px;top:592.84px;font-size:12px;line-height:16px;letter-spacing:0.269px;color:#6e6e6e;">UKOil-,Daily</div>
<div class="t" id="t54" style="left:748.56px;top:592.84px;font-size:12px;line-height:16px;letter-spacing:0.237px;color:#6e6e6e;">USOil-,Daily</div>
<div class="t" id="t55" style="left:838.64px;top:592.84px;font-size:12px;line-height:16px;letter-spacing:0.238px;color:#6e6e6e;">HK50-,H1</div>
<div class="t" id="t56" style="left:914.76px;top:592.84px;font-size:12px;line-height:16px;letter-spacing:-0.139px;color:#6e6e6e;">EURCHF-,H1</div>
<div class="t" id="t57" style="left:1008.56px;top:592.84px;font-size:12px;line-height:16px;letter-spacing:0.287px;color:#6e6e6e;">USOil-,H4</div>
<div class="t" id="t58" style="left:1087.92px;top:592.84px;font-size:12px;line-height:16px;letter-spacing:0.361px;color:#6e6e6e;">UKOil-,H4</div>
<div class="lab" style="top:150px;background:#ff0000;"></div>
<div class="lab" style="top:208px;background:#ff0000;"></div>
<div class="lab" style="top:257px;background:#00ff00;"></div>
<div class="lab" style="top:312px;background:#0000ff;"></div>
<div class="lab" style="top:367px;background:#0000ff;"></div>
<div class="lab" style="top:378px;background:#000;"></div>
<div class="t nf" id="l0" style="left:1172.08px;top:149.67px;font-size:9.6px;line-height:12px;letter-spacing:-0.151px;color:#fff;">1.11422</div>
<div class="t nf" id="l1" style="left:1172.08px;top:207.67px;font-size:9.6px;line-height:12px;letter-spacing:-0.151px;color:#fff;">1.09596</div>
<div class="t nf" id="l2" style="left:1172.08px;top:256.67px;font-size:9.6px;line-height:12px;letter-spacing:-0.151px;color:#fff;">1.08044</div>
<div class="t nf" id="l3" style="left:1172.08px;top:311.67px;font-size:9.6px;line-height:12px;letter-spacing:-0.151px;color:#fff;">1.06297</div>
<div class="t nf" id="l4" style="left:1172.08px;top:366.67px;font-size:9.6px;line-height:12px;letter-spacing:-0.151px;color:#fff;">1.04562</div>
<div class="t nf" id="l5" style="left:1172.08px;top:377.67px;font-size:9.6px;line-height:12px;letter-spacing:-0.151px;color:#fff;">1.04267</div>
</body></html>
